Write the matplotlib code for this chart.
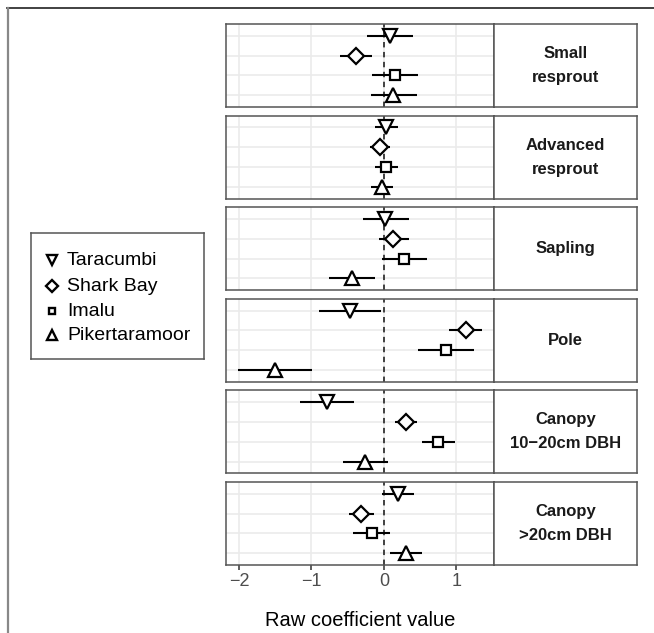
import matplotlib
matplotlib.use("Agg")
import matplotlib.pyplot as plt
from matplotlib.lines import Line2D

plt.rcParams['font.family'] = ['Liberation Sans', 'DejaVu Sans']

# ---- data ----
sites = ['Taracumbi', 'Shark Bay', 'Imalu', 'Pikertaramoor']
site_markers = ['v', 'D', 's', '^']
classes = ['Small\nresprout', 'Advanced\nresprout', 'Sapling', 'Pole',
           'Canopy\n10\u221220cm DBH', 'Canopy\n>20cm DBH']

taracumbi_est = [0.09, 0.03, 0.02, -0.47, -0.79, 0.19]
taracumbi_lo = [-0.24, -0.12, -0.29, -0.90, -1.16, -0.03]
taracumbi_hi = [0.40, 0.20, 0.34, -0.04, -0.41, 0.41]

sharkbay_est = [-0.39, -0.06, 0.13, 1.13, 0.31, -0.31]
sharkbay_lo = [-0.61, -0.19, -0.07, 0.90, 0.16, -0.48]
sharkbay_hi = [-0.17, 0.08, 0.34, 1.35, 0.46, -0.14]

imalu_est = [0.15, 0.03, 0.28, 0.86, 0.74, -0.17]
imalu_lo = [-0.17, -0.12, -0.03, 0.47, 0.52, -0.43]
imalu_hi = [0.47, 0.19, 0.59, 1.25, 0.98, 0.08]

piker_est = [0.13, -0.03, -0.44, -1.50, -0.26, 0.30]
piker_lo = [-0.18, -0.18, -0.76, -2.02, -0.56, 0.09]
piker_hi = [0.46, 0.13, -0.12, -0.99, 0.05, 0.52]

x_ticks = [-2, -1, 0, 1]
x_ticklabels = ['\u22122', '\u22121', '0', '1']

est = [taracumbi_est, sharkbay_est, imalu_est, piker_est]
lo = [taracumbi_lo, sharkbay_lo, imalu_lo, piker_lo]
hi = [taracumbi_hi, sharkbay_hi, imalu_hi, piker_hi]

# ---- figure ----
W, H = 654, 633
fig = plt.figure(figsize=(W / 100, H / 100), dpi=100)

def fx(px):
    return px / W

def fy(py):
    return 1 - py / H

panel_left, panel_right, strip_right = 226, 494, 637
panel_top0, pitch, panel_h = 24, 91.6, 83
border_col = '#555555'
ms_map = {'v': 9.5, 'D': 8, 's': 7, '^': 9.5}

for ci, cname in enumerate(classes):
    top = panel_top0 + ci * pitch
    ax = fig.add_axes([fx(panel_left), fy(top + panel_h),
                       fx(panel_right - panel_left), panel_h / H])
    ax.set_xlim(-2.18, 1.52)
    ax.set_ylim(3.6, -0.6)
    for xv in x_ticks:
        ax.axvline(xv, color='#EBEBEB', lw=1.2, zorder=0)
    for yv in range(len(sites)):
        ax.axhline(yv, color='#EBEBEB', lw=1.2, zorder=0)
    ax.axvline(0, color='#333333', lw=1.3, ls=(0, (3, 2.5)), zorder=1)
    for si in range(len(sites)):
        ax.plot([lo[si][ci], hi[si][ci]], [si, si], color='black', lw=1.5,
                solid_capstyle='butt', zorder=2)
        ax.plot(est[si][ci], si, marker=site_markers[si],
                ms=ms_map[site_markers[si]], mfc='white', mec='black',
                mew=1.6, ls='none', zorder=3)
    ax.set_yticks([])
    for s in ax.spines.values():
        s.set_color(border_col)
        s.set_linewidth(1.1)
    if ci == len(classes) - 1:
        ax.set_xticks(x_ticks)
        ax.set_xticklabels(x_ticklabels, fontsize=13, color='#4D4D4D')
        ax.tick_params(axis='x', length=3.5, width=1.1, color='#333333', pad=2)
    else:
        ax.set_xticks([])
    # strip
    sax = fig.add_axes([fx(panel_right), fy(top + panel_h),
                        fx(strip_right - panel_right), panel_h / H])
    sax.set_xticks([])
    sax.set_yticks([])
    sax.set_facecolor('white')
    for s in sax.spines.values():
        s.set_color(border_col)
        s.set_linewidth(1.1)
    sax.text(0.5, 0.5, cname, ha='center', va='center', fontsize=12,
             fontweight='bold', color='#1A1A1A', linespacing=1.75,
             transform=sax.transAxes)

# x axis title
fig.text(fx((panel_left + panel_right) / 2), fy(620), 'Raw coefficient value',
         ha='center', va='center', fontsize=14.5, color='black')

# legend box
lx0, lx1, ly0, ly1 = 31, 204, 233, 359
lax = fig.add_axes([fx(lx0), fy(ly1), fx(lx1 - lx0), (ly1 - ly0) / H])
lax.set_xlim(lx0, lx1)
lax.set_ylim(ly1, ly0)
lax.set_xticks([])
lax.set_yticks([])
for s in lax.spines.values():
    s.set_color('#555555')
    s.set_linewidth(1.1)
entry_y = [260, 286, 311, 335]
leg_ms = {'v': 7, 'D': 6, 's': 5, '^': 7}
for si, name in enumerate(sites):
    lax.plot(52, entry_y[si], marker=site_markers[si], ms=leg_ms[site_markers[si]],
             mfc='white', mec='black', mew=1.7, ls='none')
    lax.text(67, entry_y[si], name, ha='left', va='center', fontsize=14,
             color='black')

# outer frame lines
fig.add_artist(Line2D([fx(7), fx(W)], [fy(8), fy(8)], color='#333333', lw=1.3))
fig.add_artist(Line2D([fx(7.5), fx(7.5)], [fy(8), fy(H)], color='#888888', lw=1.6))

fig.savefig('out.png', dpi=100)
